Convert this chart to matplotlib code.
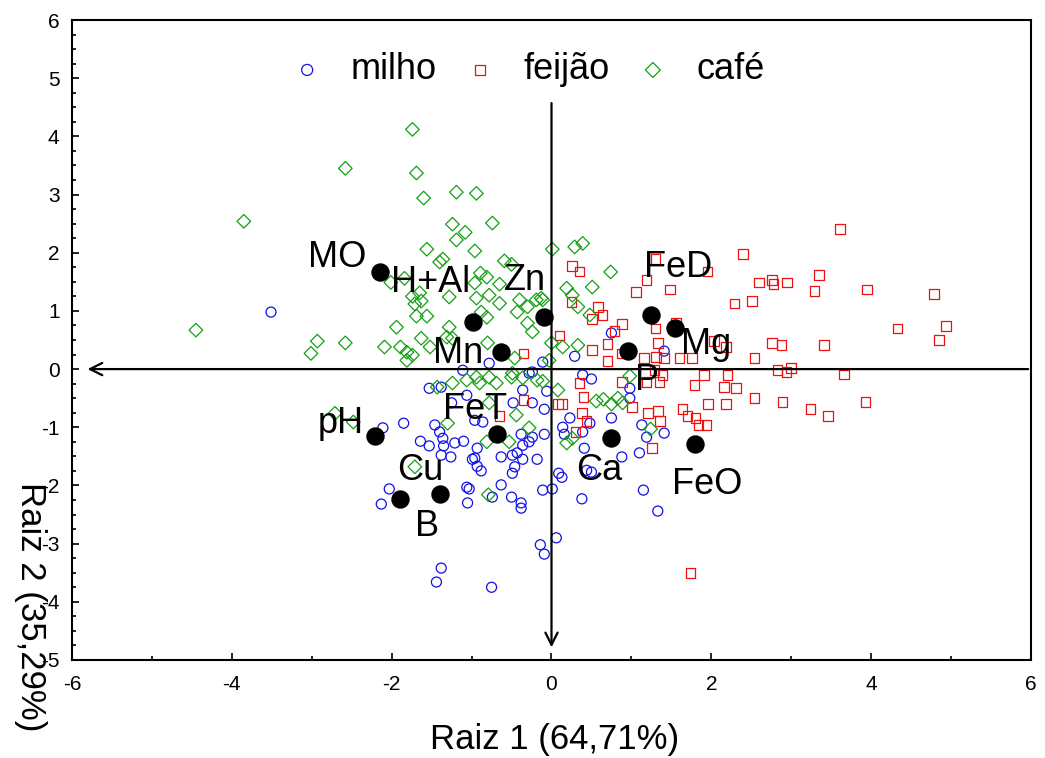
import numpy as np
import matplotlib.pyplot as plt
from matplotlib.ticker import MultipleLocator

plt.rcParams['font.family'] = ['Liberation Sans', 'DejaVu Sans']
plt.rcParams['axes.unicode_minus'] = False

# scores (Raiz 1, Raiz 2)
milho_x = [-3.51, -2.11, -1.85, -1.53, -1.38, -1.06, -1.46, -1.40, -1.36, -1.64, -1.53, -1.35,
           -1.21, -1.10, -1.38, -1.26, -0.93, -0.99, -0.93, -0.88, -0.63, -0.49, -0.43, -0.36,
           -0.46, -0.49, -0.18, -0.36, -0.28, -0.09, -0.24, -0.38, -0.09, -0.24, -0.48, -1.25,
           -0.86, -1.06, -1.03, -1.05, -2.03, -2.13, -0.63, -0.50, -0.38, -0.38, -0.11, 0.01,
           -0.14, -0.09, -1.38, -1.44, -0.75, 0.06, -0.06, -0.28, 0.16, 0.41, 0.88, 1.10,
           1.19, 1.41, -0.74, 0.09, 0.13, 0.50, 0.38, 1.15, 1.33, 0.39, 0.50, 0.23,
           0.14, 0.39, 0.48, 0.75, 0.98, 1.13, 0.44, -0.96, -0.96, -0.78, -1.11, -0.11,
           -0.24, 0.29, 0.75, 1.41, 0.98, -0.36]
milho_y = [0.98, -1.01, -0.93, -0.33, -0.31, -0.45, -0.96, -1.08, -1.19, -1.24, -1.32, -1.32,
           -1.27, -1.24, -1.48, -1.51, -1.36, -1.55, -1.67, -1.75, -1.51, -1.48, -1.44, -1.55,
           -1.68, -1.79, -1.55, -1.31, -1.25, -1.12, -1.17, -1.12, -0.69, -0.58, -0.58, -0.58,
           -0.91, -2.03, -2.06, -2.30, -2.06, -2.32, -1.99, -2.20, -2.30, -2.39, -2.08, -2.06,
           -3.02, -3.18, -3.42, -3.66, -3.75, -2.90, -0.38, -0.07, -1.12, -1.36, -1.51, -1.44,
           -1.17, -1.10, -2.20, -1.79, -1.86, -1.77, -2.23, -2.08, -2.44, -0.10, -0.17, -0.84,
           -1.00, -1.08, -0.93, -0.84, -0.50, -0.96, -1.74, -0.88, -1.53, 0.10, -0.02, 0.12,
           -0.05, 0.22, 0.62, 0.31, -0.33, -0.36]

feijao_x = [0.26, 0.35, 1.06, 1.19, 1.30, 1.48, 1.95, 2.40, 2.60, 2.76, 2.78, 2.95,
            2.29, 2.51, 0.58, 0.64, 0.51, 0.79, 0.88, 1.30, 1.56, 1.33, 0.51, 0.70,
            0.70, 0.88, 1.16, 1.31, 1.41, 1.60, 1.76, 2.03, 2.18, 2.76, 2.88, 2.54,
            1.29, 1.39, 0.10, 0.35, 0.88, 1.19, 1.35, 1.79, 1.91, 2.20, 2.16, 2.31,
            2.54, 3.61, 3.35, 3.29, 3.95, 4.79, 4.33, 4.94, 4.85, 3.41, 2.83, 2.94,
            3.00, 3.66, 2.89, 3.24, 3.46, 3.93, 0.13, 0.40, 0.38, 0.44, 0.30, 1.01,
            1.21, 1.33, 1.36, 1.26, 1.64, 1.70, 1.80, 1.84, 1.94, 1.96, 2.18, 1.74,
            -0.35, -0.35, -0.65, 0.08, 0.25]
feijao_y = [1.77, 1.68, 1.32, 1.53, 1.89, 1.37, 1.68, 1.98, 1.49, 1.53, 1.46, 1.49,
            1.13, 1.17, 1.07, 0.93, 0.86, 0.65, 0.77, 0.70, 0.79, 0.45, 0.33, 0.43,
            0.14, 0.27, 0.19, 0.21, 0.19, 0.19, 0.19, 0.48, 0.38, 0.45, 0.41, 0.19,
            -0.02, -0.10, 0.58, -0.24, -0.22, -0.22, -0.22, -0.27, -0.10, -0.10, -0.31, -0.33,
            -0.50, 2.41, 1.62, 1.34, 1.37, 1.29, 0.70, 0.74, 0.50, 0.41, -0.02, -0.05,
            0.02, -0.09, -0.57, -0.69, -0.81, -0.57, -0.60, -0.48, -0.76, -0.89, -1.08, -0.65,
            -0.76, -0.72, -0.89, -1.36, -0.69, -0.81, -0.84, -0.96, -0.96, -0.60, -0.60, -3.51,
            0.27, -0.53, -0.81, -0.60, 1.15]

cafe_x = [-4.45, -3.85, -2.58, -1.74, -1.69, -1.60, -1.19, -0.94, -0.74, -1.24, -1.08, -1.19,
          -1.56, -0.96, 0.01, -1.40, -1.36, -0.59, -0.50, -0.89, -0.81, -1.84, -2.01, -0.96,
          -0.65, -1.65, -1.74, -1.63, -1.71, -1.69, -1.56, -1.94, -1.28, -0.94, -0.78, -0.65,
          -0.40, -0.19, -0.30, -0.13, -0.88, -0.81, -0.43, -0.30, -0.24, -1.28, -1.31, -1.63,
          -1.81, -1.74, -1.24, -0.80, -0.46, 0.00, -2.09, -1.89, -1.52, -2.58, -2.93, -3.01,
          -1.81, 0.29, 0.39, 0.19, 0.26, 0.33, 0.51, 0.48, 0.14, 0.33, 0.74, -0.11,
          -0.03, 0.98, 0.08, -0.11, 0.56, 0.65, 0.75, 0.83, 0.89, 1.24, 0.19, 0.26,
          -2.71, -2.48, -1.43, -1.24, -1.06, -0.90, -0.69, -0.94, -0.78, -0.50, -0.36, -0.18,
          -0.78, -1.30, -0.44, -0.28, -0.53, -0.81, -1.71, -0.79, -0.49]
cafe_y = [0.67, 2.54, 3.45, 4.12, 3.37, 2.94, 3.04, 3.02, 2.51, 2.49, 2.35, 2.22,
          2.06, 2.03, 2.06, 1.84, 1.89, 1.86, 1.80, 1.65, 1.58, 1.56, 1.49, 1.48,
          1.46, 1.31, 1.25, 1.17, 1.12, 0.91, 0.91, 0.72, 1.24, 1.22, 1.27, 1.13,
          1.19, 1.19, 1.07, 1.22, 0.98, 0.89, 0.98, 0.79, 0.64, 0.72, 0.55, 0.53,
          0.29, 0.24, 0.53, 0.45, 0.19, 0.45, 0.38, 0.38, 0.38, 0.45, 0.48, 0.27,
          0.15, 2.10, 2.16, 1.39, 1.27, 1.07, 1.41, 0.93, 0.38, 0.41, 1.67, 1.19,
          0.15, -0.12, -0.36, -0.21, -0.55, -0.52, -0.60, -0.50, -0.58, -1.03, -1.27, -1.19,
          -0.76, -0.91, -0.31, -0.24, -0.19, -0.24, -0.24, -0.14, -0.14, -0.14, -0.15, -0.19,
          -0.58, -0.93, -0.79, -1.01, -1.25, -1.25, -1.68, -2.16, -0.07]

# variable (structure) points and their label positions
var_names = ['MO', 'H+Al', 'Zn', 'Mn', 'FeD', 'Mg', 'P', 'pH', 'FeT', 'Cu', 'B', 'Ca', 'FeO']
var_x = [-2.15, -0.98, -0.10, -0.63, 1.25, 1.54, 0.96, -2.21, -0.68, -1.40, -1.89, 0.74, 1.80]
var_y = [1.67, 0.81, 0.89, 0.29, 0.93, 0.70, 0.31, -1.15, -1.12, -2.15, -2.23, -1.19, -1.29]
lab_x = [-2.68, -1.51, -0.33, -1.17, 1.58, 1.94, 1.19, -2.64, -0.96, -1.64, -1.56, 0.60, 1.95]
lab_y = [1.91, 1.48, 1.53, 0.27, 1.74, 0.43, -0.19, -0.93, -0.70, -1.75, -2.71, -1.74, -1.98]

fig = plt.figure(figsize=(10.45, 7.58), dpi=100)
ax = fig.add_axes([0.0689, 0.1293, 0.9177, 0.8443])

ax.scatter(milho_x, milho_y, s=52, marker='o', facecolors='none', edgecolors='#1010e8',
           linewidths=0.9, label='milho', zorder=3)
ax.scatter(feijao_x, feijao_y, s=48, marker='s', facecolors='none', edgecolors='#f01010',
           linewidths=0.9, label='feijão', zorder=3)
ax.scatter(cafe_x, cafe_y, s=48, marker='D', facecolors='none', edgecolors='#14a014',
           linewidths=0.9, label='café', zorder=3)

# axis arrows through the origin
ax.annotate('', xy=(-5.84, 0), xytext=(6, 0),
            arrowprops=dict(arrowstyle='->', lw=1.6, color='k', mutation_scale=22), zorder=4)
ax.annotate('', xy=(0, -4.83), xytext=(0, 4.62),
            arrowprops=dict(arrowstyle='->', lw=1.6, color='k', mutation_scale=22), zorder=4)

ax.scatter(var_x, var_y, s=150, color='black', zorder=5)
for name, tx, ty in zip(var_names, lab_x, lab_y):
    ax.text(tx, ty, name, fontsize=26, ha='center', va='center', zorder=6)

ax.set_xlim(-6, 6)
ax.set_ylim(-5, 6)
ax.xaxis.set_major_locator(MultipleLocator(2))
ax.xaxis.set_minor_locator(MultipleLocator(1))
ax.yaxis.set_major_locator(MultipleLocator(1))
ax.yaxis.set_minor_locator(MultipleLocator(0.25))
ax.tick_params(which='both', direction='in', width=1.2)
ax.tick_params(which='major', length=5)
ax.tick_params(which='minor', length=3)
ax.tick_params(axis='x', pad=11, labelsize=15)
ax.tick_params(axis='y', pad=9, labelsize=15)
for sp in ax.spines.values():
    sp.set_linewidth(1.5)

leg = ax.legend(loc='center', bbox_to_anchor=(0.478, 0.922), ncol=3, frameon=False,
                fontsize=26, handlelength=0.6, handletextpad=0.9, columnspacing=0.9,
                scatterpoints=1, markerscale=1.1)

fig.text(0.531, 0.024, 'Raiz 1 (64,71%)', fontsize=25, ha='center', va='center')
fig.text(0.029, 0.20, 'Raiz 2 (35,29%)', fontsize=25, ha='center', va='center', rotation=270)

fig.savefig('out.png', dpi=100)
